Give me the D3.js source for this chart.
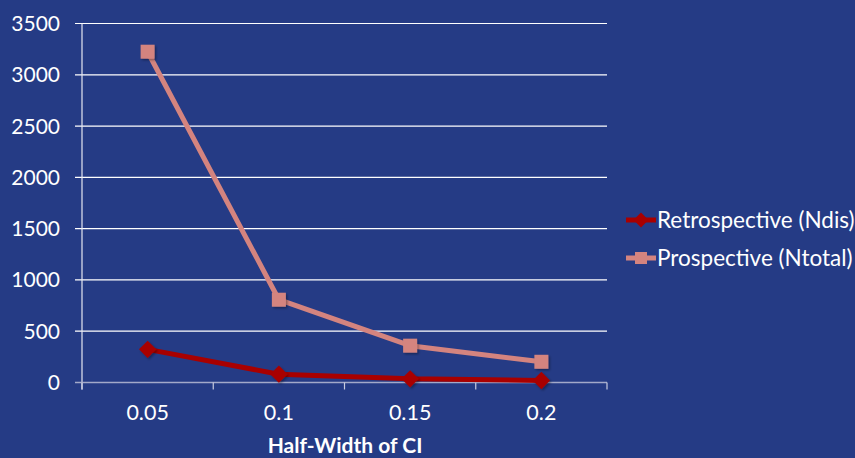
<!DOCTYPE html>
<html>
<head>
<meta charset="utf-8">
<script src="https://cdn.jsdelivr.net/npm/d3@7"></script>
<style>
  html, body { margin: 0; padding: 0; background: #253B85; }
  svg { display: block; }
</style>
</head>
<body>
<svg id="chart" width="855" height="458"></svg>
<script>
// Required sample sizes by half-width of the confidence interval
const categories = ["0.05", "0.1", "0.15", "0.2"];
const retrospective = [323, 81, 36, 20];      // Ndis
const prospective = [3225, 807, 359, 202];    // Ntotal
const yTicks = [0, 500, 1000, 1500, 2000, 2500, 3000, 3500];
const seriesNames = ["Retrospective (Ndis)", "Prospective (Ntotal)"];

const svg = d3.select("#chart");
const W = 855, H = 458;
const plot = { left: 82, right: 607, top: 23.5, bottom: 382.5 };
const font = "Lato, 'Open Sans', sans-serif";

svg.append("rect").attr("width", W).attr("height", H).attr("fill", "#253B85");

const x = d3.scaleBand().domain(categories).range([plot.left, plot.right]).padding(0);
const y = d3.scaleLinear().domain([0, 3500]).range([plot.bottom, plot.top]);

// Horizontal gridlines with short outward ticks
const grid = svg.append("g");
grid.selectAll("line").data(yTicks.filter(d => d > 0)).join("line")
  .attr("x1", plot.left - 7).attr("x2", plot.right)
  .attr("y1", d => y(d)).attr("y2", d => y(d))
  .attr("stroke", "#ffffff").attr("stroke-width", 1.2);

// Vertical axis line
svg.append("line")
  .attr("x1", plot.left).attr("x2", plot.left)
  .attr("y1", plot.top).attr("y2", plot.bottom + 7)
  .attr("stroke", "#e6e8f2").attr("stroke-width", 1.2);

// Y tick labels
svg.append("g").selectAll("text").data(yTicks).join("text")
  .attr("x", 60).attr("y", d => y(d))
  .attr("dy", "0.36em")
  .attr("text-anchor", "end")
  .attr("fill", "#ffffff")
  .attr("font-family", font).attr("font-size", 21)
  .text(d => d);

// Horizontal base axis with category boundary ticks
svg.append("line")
  .attr("x1", plot.left - 7).attr("x2", plot.right)
  .attr("y1", y(0)).attr("y2", y(0))
  .attr("stroke", "#a3a9c9").attr("stroke-width", 1.6);
const bounds = categories.map(c => x(c)).concat([plot.right]);
svg.append("g").selectAll("line").data(bounds).join("line")
  .attr("x1", d => d).attr("x2", d => d)
  .attr("y1", y(0)).attr("y2", y(0) + 7)
  .attr("stroke", "#c8cce0").attr("stroke-width", 1.2);

// X tick labels
svg.append("g").selectAll("text").data(categories).join("text")
  .attr("x", d => x(d) + x.bandwidth() / 2)
  .attr("y", 420)
  .attr("text-anchor", "middle")
  .attr("fill", "#ffffff")
  .attr("font-family", font).attr("font-size", 21.5)
  .text(d => d);

// X axis title
svg.append("text")
  .attr("x", 345).attr("y", 453)
  .attr("text-anchor", "middle")
  .attr("fill", "#ffffff")
  .attr("font-family", font).attr("font-size", 21).attr("font-weight", "bold")
  .text("Half-Width of CI");

// Soft marker shadow
const defs = svg.append("defs");
const f = defs.append("filter").attr("id", "shadow").attr("x", "-50%").attr("y", "-50%").attr("width", "200%").attr("height", "200%");
f.append("feDropShadow").attr("dx", 1.5).attr("dy", 1.5).attr("stdDeviation", 1.2)
  .attr("flood-color", "#000").attr("flood-opacity", 0.35);

const line = d3.line()
  .x((d, i) => x(categories[i]) + x.bandwidth() / 2)
  .y(d => y(d));

const series = [
  { name: seriesNames[1], values: prospective, color: "#D4847F", shape: "square" },
  { name: seriesNames[0], values: retrospective, color: "#A80000", shape: "diamond" }
];

function drawMarker(g, shape, cx, cy, color, size) {
  if (shape === "square") {
    g.append("rect")
      .attr("x", cx - size / 2).attr("y", cy - size / 2)
      .attr("width", size).attr("height", size)
      .attr("fill", color);
  } else {
    const r = size * 0.62;
    g.append("path")
      .attr("d", `M${cx},${cy - r}L${cx + r},${cy}L${cx},${cy + r}L${cx - r},${cy}Z`)
      .attr("fill", color);
  }
}

series.forEach(s => {
  svg.append("path")
    .datum(s.values)
    .attr("d", line)
    .attr("fill", "none")
    .attr("stroke", s.color)
    .attr("stroke-width", 5)
    .attr("stroke-linejoin", "round");
  const mg = svg.append("g").attr("filter", "url(#shadow)");
  s.values.forEach((v, i) => {
    drawMarker(mg, s.shape, x(categories[i]) + x.bandwidth() / 2, y(v), s.color, 14);
  });
});

// Legend
const legendItems = [
  { name: seriesNames[0], color: "#A80000", shape: "diamond", cy: 220 },
  { name: seriesNames[1], color: "#D4847F", shape: "square", cy: 258 }
];
legendItems.forEach(it => {
  const g = svg.append("g");
  g.append("line")
    .attr("x1", 626).attr("x2", 656)
    .attr("y1", it.cy).attr("y2", it.cy)
    .attr("stroke", it.color).attr("stroke-width", 5);
  drawMarker(g, it.shape, 641, it.cy, it.color, 12);
  g.append("text")
    .attr("x", 657).attr("y", it.cy)
    .attr("dy", "0.36em")
    .attr("fill", "#ffffff")
    .attr("font-family", font).attr("font-size", 22.5)
    .text(it.name);
});
</script>
</body>
</html>
